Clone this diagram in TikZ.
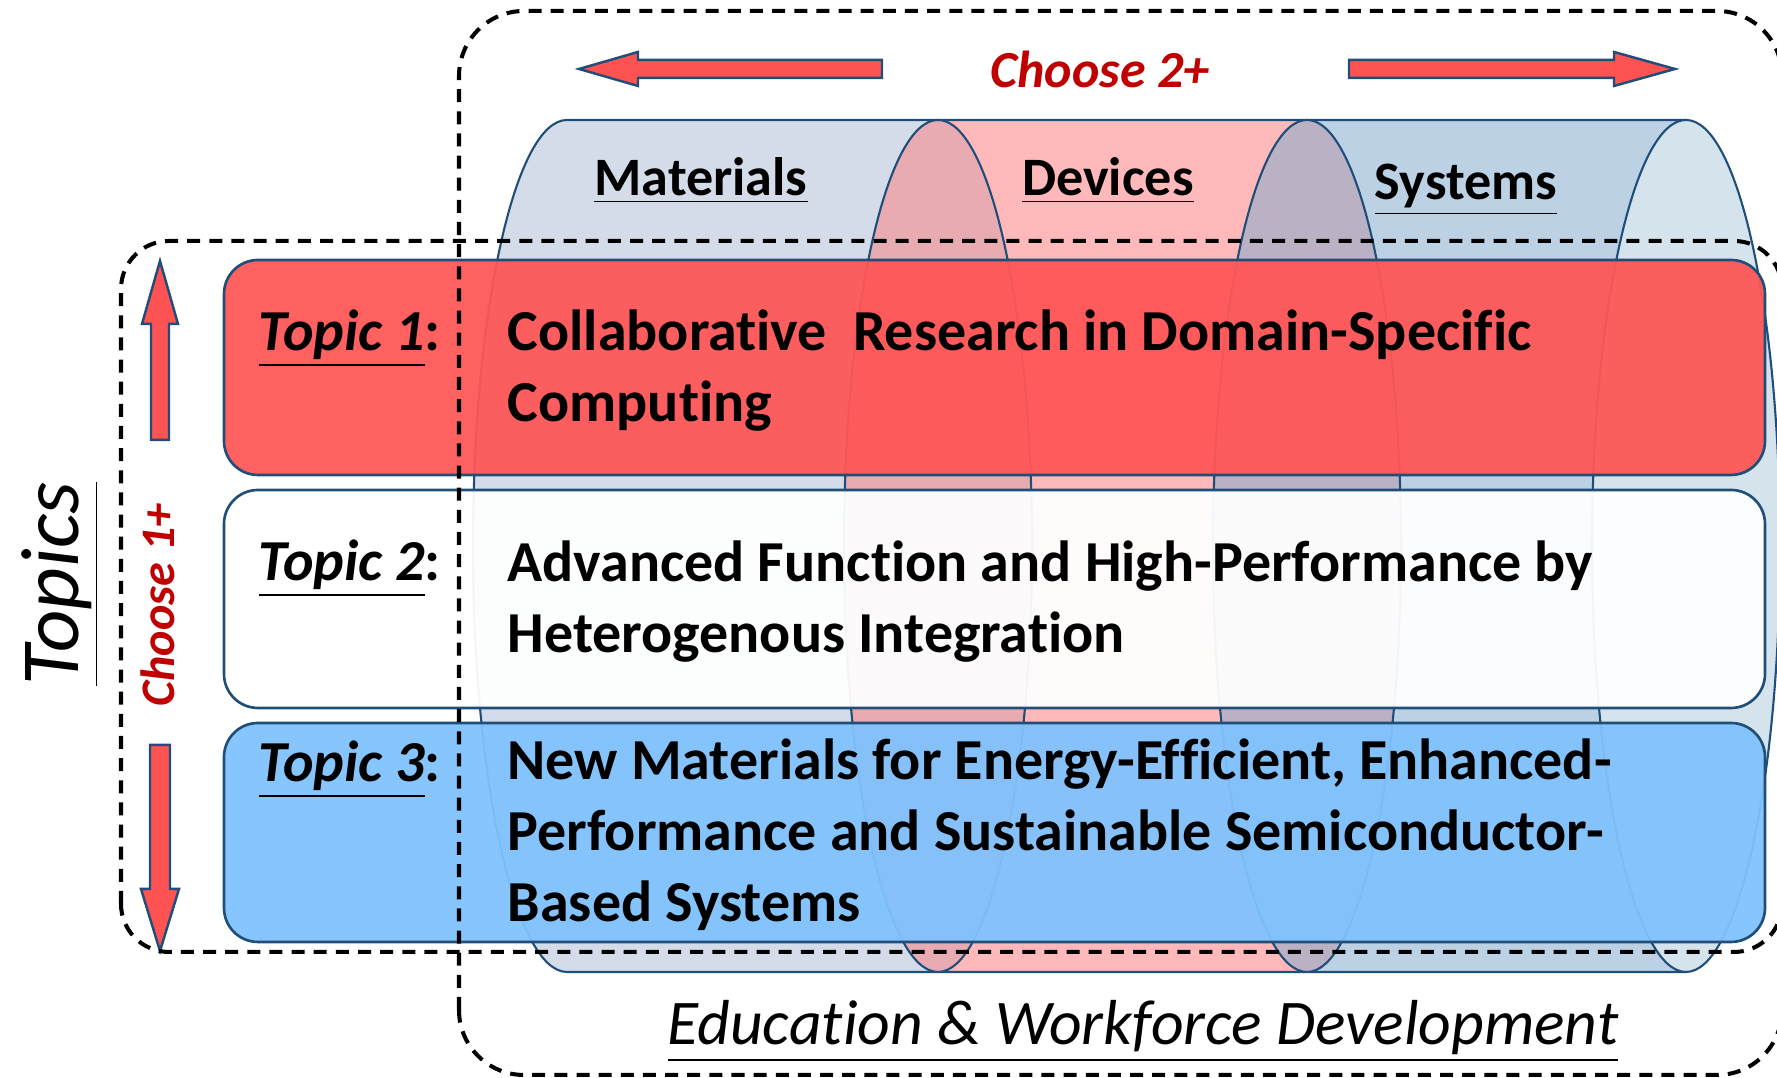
\documentclass[tikz,border=0pt]{standalone}
\usepackage{fontspec}
\setmainfont{Carlito}[Ligatures=NoCommon]

\definecolor{edgeblue}{HTML}{1F4E79}
\definecolor{topicred}{HTML}{FF5757}
\definecolor{topicblue}{HTML}{80C2FD}
\definecolor{arrowred}{HTML}{FF5252}
\definecolor{labelred}{HTML}{C00000}
\definecolor{matfill}{HTML}{D4DCEA}
\definecolor{devfill}{HTML}{FFB9BA}
\definecolor{sysfill}{HTML}{BCD1E4}
\definecolor{matdev}{HTML}{E9ABB2}
\definecolor{devsys}{HTML}{BAB1C5}
\definecolor{syscap}{HTML}{D5E3EC}

\begin{document}
\begin{tikzpicture}[x=1cm, y=1cm,
  cyl/.style={line width=0.6pt, draw=edgeblue},
  topicbox/.style={draw=edgeblue, line width=0.75pt, rounded corners=0.34cm, fill opacity=0.95},
  blockarrow/.style={draw=edgeblue, line width=0.7pt, fill=arrowred},
  fence/.style={line width=1.15pt, dash pattern=on 3.7pt off 2.6pt},
  topictext/.style={font=\fontsize{16.5}{20.2}\selectfont\bfseries, align=left, inner sep=0pt},
  cyllabel/.style={font=\fontsize{15.4}{18}\selectfont\bfseries, inner sep=0pt, anchor=base}]

\useasboundingbox (0,0) rectangle (17.77,10.78);

% cylinder bodies
\fill[matfill] (5.67,9.58) arc[start angle=90, end angle=270, x radius=0.94, y radius=4.26]
  -- (9.38,1.06) arc[start angle=-90, end angle=90, x radius=0.94, y radius=4.26] -- cycle;
\fill[devfill] (9.38,9.58) arc[start angle=90, end angle=270, x radius=0.94, y radius=4.26]
  -- (13.07,1.06) arc[start angle=-90, end angle=90, x radius=0.94, y radius=4.26] -- cycle;
\fill[sysfill] (13.07,9.58) arc[start angle=90, end angle=270, x radius=0.94, y radius=4.26]
  -- (16.86,1.06) arc[start angle=-90, end angle=90, x radius=0.94, y radius=4.26] -- cycle;

\draw[cyl] (16.86,9.58) -- (5.67,9.58) arc[start angle=90, end angle=270, x radius=0.94, y radius=4.26] -- (16.86,1.06);
\draw[cyl, fill=matdev] (9.38,5.32) ellipse [x radius=0.94, y radius=4.26];
\draw[cyl, fill=devsys] (13.07,5.32) ellipse [x radius=0.94, y radius=4.26];
\draw[cyl, fill=syscap] (16.86,5.32) ellipse [x radius=0.94, y radius=4.26];

\node[cyllabel] (materials) at (7.01,8.82) {\underline{Materials}};
\node[cyllabel] (devices) at (11.08,8.82) {\underline{Devices}};
\node[cyllabel] (systems) at (14.66,8.78) {\underline{Systems}};

% topic rows
\draw[topicbox, fill=topicred] (2.24,6.03) rectangle (17.65,8.18);
\draw[topicbox, fill=white] (2.24,3.70) rectangle (17.65,5.88);
\draw[topicbox, fill=topicblue] (2.24,1.36) rectangle (17.65,3.55);

\node[topictext, anchor=base west] (t1label) at (2.58,7.27) {\textit{\underline{Topic 1}}:};
\node[topictext, anchor=base west] (t2label) at (2.58,4.97) {\textit{\underline{Topic 2}}:};
\node[topictext, anchor=base west] (t3label) at (2.58,2.96) {\textit{\underline{Topic 3}}:};

% base anchor sits on the last line
\node[topictext, anchor=base west] (t1text) at (5.07,6.56) {Collaborative\ \ Research in Domain-Specific\\Computing};
\node[topictext, anchor=base west] (t2text) at (5.07,4.25) {Advanced Function and High-Performance by\\Heterogenous Integration};
\node[topictext, anchor=base west] (t3text) at (5.07,1.56) {New Materials for Energy-Efficient, Enhanced-\\Performance and Sustainable Semiconductor-\\Based Systems};

% choose arrows
\draw[blockarrow] (5.79,10.09) -- (6.38,10.26) -- (6.38,10.18) -- (8.82,10.18) -- (8.82,10.00) -- (6.38,10.00) -- (6.38,9.92) -- cycle;
\draw[blockarrow] (16.75,10.09) -- (16.14,10.26) -- (16.14,10.18) -- (13.49,10.18) -- (13.49,10.00) -- (16.14,10.00) -- (16.14,9.92) -- cycle;
\draw[blockarrow] (1.60,8.17) -- (1.78,7.54) -- (1.69,7.54) -- (1.69,6.38) -- (1.51,6.38) -- (1.51,7.54) -- (1.42,7.54) -- cycle;
\draw[blockarrow] (1.60,1.27) -- (1.79,1.89) -- (1.70,1.89) -- (1.70,3.33) -- (1.50,3.33) -- (1.50,1.89) -- (1.41,1.89) -- cycle;

\node[text=labelred, font=\fontsize{14.8}{17}\selectfont\bfseries\itshape] (choosetwo) at (11.00,10.09) {Choose 2+};
\node[text=labelred, font=\fontsize{13.7}{16}\selectfont\bfseries\itshape, rotate=90, anchor=base, inner sep=0pt] (chooseone) at (1.74,4.73) {Choose 1+};
\node[font=\fontsize{23.5}{26}\selectfont\itshape, rotate=90, anchor=base, inner sep=0pt] (topics) at (0.78,4.94) {\underline{Topics}};

% dashed groupings
\draw[fence, rounded corners=0.65cm] (4.59,0.03) rectangle (17.82,10.67);
\draw[fence, rounded corners=0.48cm] (1.21,1.26) rectangle (17.82,8.37);

\node[font=\fontsize{18.1}{20}\selectfont\itshape, anchor=base, inner sep=0pt] (ewd) at (11.43,0.33) {\underline{Education \& Workforce Development}};

\end{tikzpicture}
\end{document}
